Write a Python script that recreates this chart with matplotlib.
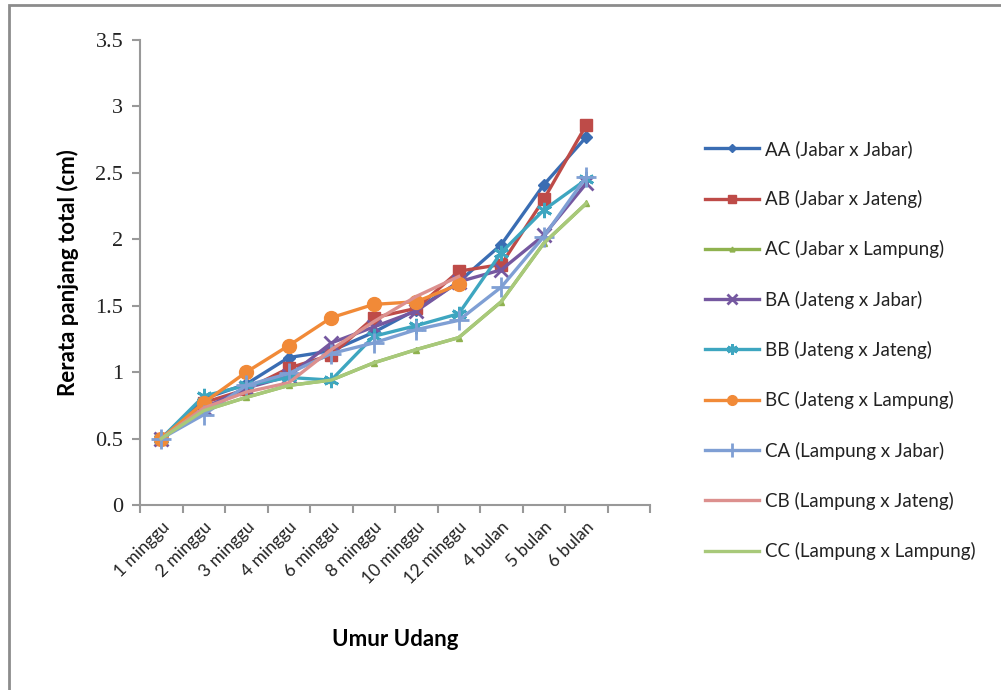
import numpy as np
import matplotlib
matplotlib.use("Agg")
from matplotlib import pyplot as plt
from matplotlib.patches import Rectangle

# data; last category slot is empty in the original
kategori = ['1 minggu', '2 minggu', '3 minggu', '4 minggu', '6 minggu', '8 minggu',
            '10 minggu', '12 minggu', '4 bulan', '5 bulan', '6 bulan', '']

AA = [0.50, 0.80, 0.91, 1.11, 1.16, 1.30, 1.47, 1.68, 1.96, 2.41, 2.77]
AB = [0.50, 0.77, 0.87, 1.03, 1.13, 1.41, 1.48, 1.76, 1.81, 2.30, 2.86]
AC = [0.50, 0.71, 0.81, 0.90, 0.94, 1.07, 1.17, 1.26, 1.53, 1.97, 2.27]
BA = [0.50, 0.73, 0.88, 0.97, 1.22, 1.34, 1.46, 1.68, 1.77, 2.03, 2.42]
BB = [0.50, 0.82, 0.90, 0.96, 0.94, 1.27, 1.35, 1.44, 1.90, 2.22, 2.45]
BC = [0.50, 0.77, 1.00, 1.20, 1.41, 1.51, 1.53, 1.66, np.nan, np.nan, np.nan]
CA = [0.50, 0.68, 0.90, 0.99, 1.14, 1.22, 1.32, 1.39, 1.64, 2.02, 2.47]
CB = [0.50, 0.73, 0.85, 0.92, 1.17, 1.38, 1.57, 1.72, np.nan, np.nan, np.nan]
CC = [0.50, 0.71, 0.81, 0.90, 0.94, 1.07, 1.17, 1.26, 1.53, 1.97, 2.27]

# nama seri, data, warna, marker, ukuran marker
seri = [
    ('AA (Jabar x Jabar)', AA, '#3a6db3', 'D', 6),
    ('AB (Jabar x Jateng)', AB, '#be4b48', 's', 9),
    ('AC (Jabar x Lampung)', AC, '#8fb24f', '^', 5),
    ('BA (Jateng x Jabar)', BA, '#7558a0', 'x', 10),
    ('BB (Jateng x Jateng)', BB, '#3ea6c0', (6, 2, 0), 11),
    ('BC (Jateng x Lampung)', BC, '#f18a38', 'o', 10),
    ('CA (Lampung x Jabar)', CA, '#7f9fd4', '+', 14),
    ('CB (Lampung x Jateng)', CB, '#dc908e', '', 0),
    ('CC (Lampung x Lampung)', CC, '#a8c97a', '', 0),
]

fig = plt.figure(figsize=(10.01, 6.9), dpi=100)
ax = fig.add_axes([140/1001, 1-505/690, (650-140)/1001, (505-40)/690])

x = np.arange(len(AA))
for nama, y, warna, mk, ms in seri:
    ax.plot(x, y, color=warna, linewidth=2.4, marker=mk, markersize=ms,
            markeredgewidth=2 if mk in ('x', '+', (6, 2, 0)) else 1,
            markerfacecolor=warna, markeredgecolor=warna, label=nama)

ax.set_xlim(-0.5, len(kategori)-0.5)
ax.set_ylim(0, 3.5)
ax.set_yticks(np.arange(0, 3.51, 0.5))
ax.set_yticklabels(['0', '0.5', '1', '1.5', '2', '2.5', '3', '3.5'],
                   family='Liberation Serif', fontsize=16, color='#222222')

# label di tengah kategori, tick di batas kategori
ax.set_xticks(np.arange(len(kategori)))
ax.set_xticklabels(kategori, rotation=45, ha='right', rotation_mode='anchor',
                   family='Lato', fontsize=12.5, color='#222222')
ax.set_xticks(np.arange(len(kategori)+1)-0.5, minor=True)
ax.tick_params(axis='x', which='major', length=0, pad=10)
ax.tick_params(axis='x', which='minor', length=6, color='#999999', width=1.5)
ax.tick_params(axis='y', length=6, color='#999999', width=1.5, pad=6)

for s in ['top', 'right']:
    ax.spines[s].set_visible(False)
for s in ['left', 'bottom']:
    ax.spines[s].set_color('#999999')
    ax.spines[s].set_linewidth(1.5)

ax.set_ylabel('Rerata panjang total (cm)', family='Lato', fontweight='bold',
              fontsize=16, labelpad=12)
ax.set_xlabel('Umur Udang', family='Lato', fontweight='bold', fontsize=16,
              labelpad=30)

leg = fig.legend(loc='upper left', bbox_to_anchor=(688/1001, 1-123/690),
                 frameon=False, prop={'family': 'Lato', 'size': 13.5},
                 labelspacing=1.72, handlelength=2.9, handletextpad=0.3,
                 markerscale=0.7)
for t in leg.get_texts():
    t.set_color('#222222')

# bingkai chart
fig.add_artist(Rectangle((9/1001, -0.1), 1.2, 1.1-5/690, transform=fig.transFigure,
                         fill=False, edgecolor='#8c8c8c', linewidth=2))

plt.savefig('out.png', dpi=100)
